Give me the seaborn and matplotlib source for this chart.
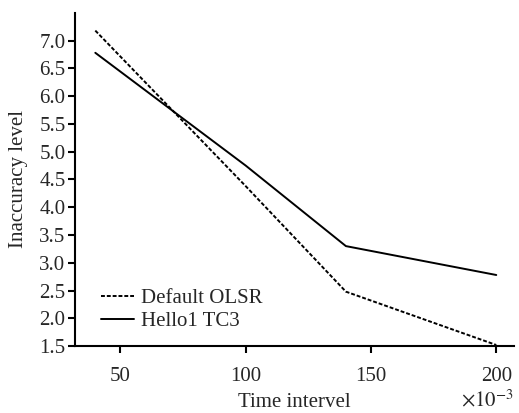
import pandas as pd
import seaborn as sns
import matplotlib.pyplot as plt

# values
time_interval = [40, 100, 140, 200]
default_olsr = [7.18, 4.38, 2.48, 1.52]
hello1_tc3 = [6.78, 4.75, 3.30, 2.78]

df = pd.concat([
    pd.DataFrame({'time': time_interval, 'level': default_olsr, 'mode': 'Default OLSR'}),
    pd.DataFrame({'time': time_interval, 'level': hello1_tc3, 'mode': 'Hello1 TC3'}),
])

sns.set_style('ticks')
plt.rcParams['font.family'] = ['Liberation Serif', 'DejaVu Serif']
plt.rcParams['mathtext.fontset'] = 'stix'

fig = plt.figure(figsize=(5.19, 4.13), dpi=100)
ax = fig.add_axes([0.145, 0.162, 0.845, 0.807])

ax = sns.lineplot(data=df, x='time', y='level', style='mode', color='black',
                  dashes={'Default OLSR': (2, 1), 'Hello1 TC3': ''},
                  linewidth=1.4, ax=ax)

ax.set_xlim(32, 207)
ax.set_ylim(1.5, 7.5)
ax.set_xticks([50, 100, 150, 200])
ax.set_yticks([1.5 + 0.5 * i for i in range(12)])
ax.set_yticklabels([f'{1.5 + 0.5 * i:.1f}' for i in range(12)])
ax.tick_params(labelsize=15, width=1.5, length=5, direction='out', color='black', pad=2)
ax.tick_params(axis='x', pad=10)
for s in ['left', 'bottom']:
    ax.spines[s].set_linewidth(1.5)
    ax.spines[s].set_color('black')
sns.despine(ax=ax)

ax.set_xlabel('Time intervel', fontsize=15)
ax.xaxis.set_label_coords(0.5, -0.168)
ax.xaxis.label.set_va('center')
ax.set_ylabel('Inaccuracy level', fontsize=15)
ax.yaxis.set_label_coords(-0.13, 0.5)
ax.yaxis.label.set_va('center')
ax.text(1.0, -0.163, r'$\times10^{-3}$', transform=ax.transAxes, fontsize=15,
        ha='right', va='center')

ax.legend(title=None, loc='lower left', frameon=False, fontsize=15,
          handlelength=1.6, handletextpad=0.3, labelspacing=0.15,
          borderaxespad=0, bbox_to_anchor=(0.04, 0.02))

plt.savefig('out.png', dpi=100)
